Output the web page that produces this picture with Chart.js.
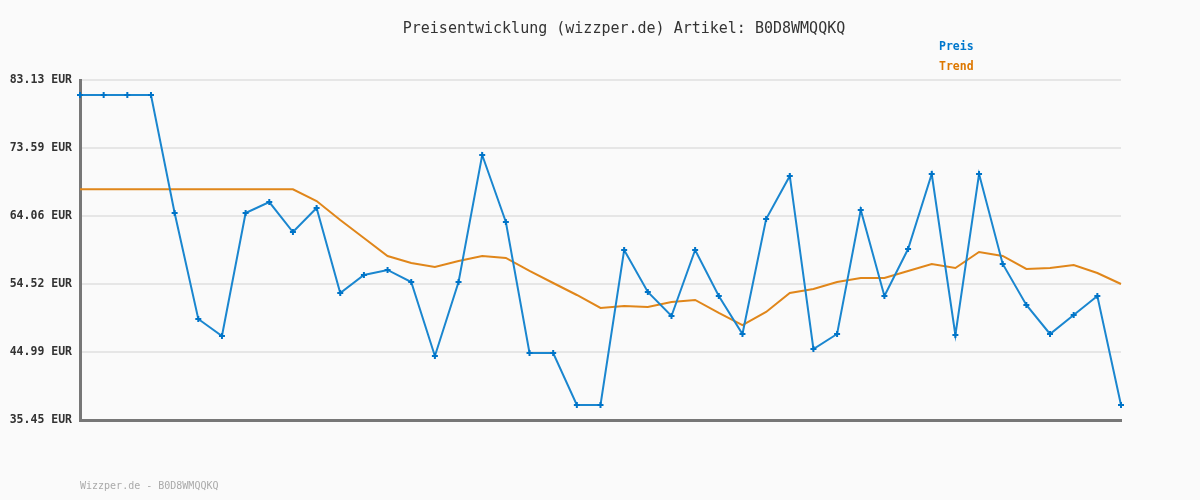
<!DOCTYPE html>
<html>
<head>
<meta charset="utf-8">
<script src="https://cdn.jsdelivr.net/npm/chart.js@4/dist/chart.umd.min.js"></script>
<style>
  html, body { margin: 0; padding: 0; background: #fafafa; }
  #wrap { position: relative; width: 1200px; height: 500px; }
  canvas { position: absolute; left: 0; top: 0; }
  .txt { position: absolute; font-family: "DejaVu Sans Mono", monospace; white-space: nowrap; }
  #title { left: 0; width: 1248px; top: 19px; text-align: center; font-size: 15px; color: #333; }
  #lgP { left: 939px; top: 39px; font-size: 11.5px; font-weight: bold; color: #0077cc; }
  #lgT { left: 939px; top: 59px; font-size: 11.5px; font-weight: bold; color: #dd7700; }
  #foot { left: 80px; top: 480px; font-size: 10px; color: #aaaaaa; }
</style>
</head>
<body>
<div id="wrap">
  <canvas id="c" width="1200" height="500"></canvas>
  <div class="txt" id="title">Preisentwicklung (wizzper.de) Artikel: B0D8WMQQKQ</div>
  <div class="txt" id="lgP">Preis</div>
  <div class="txt" id="lgT">Trend</div>
  <div class="txt" id="foot">Wizzper.de - B0D8WMQQKQ</div>
</div>
<script>
const categories = ["1","2","3","4","5","6","7","8","9","10","11","12","13","14","15","16","17","18","19","20","21","22","23","24","25","26","27","28","29","30","31","32","33","34","35","36","37","38","39","40","41","42","43","44","45"];

const preis = [81.03, 81.03, 81.03, 81.03, 64.48, 49.61, 47.23, 64.48, 66.02, 61.81,
               65.18, 53.26, 55.78, 56.49, 54.80, 44.43, 54.80, 72.61, 63.22, 44.85,
               44.85, 37.55, 37.55, 59.29, 53.40, 50.03, 59.29, 52.84, 47.51, 63.64,
               69.67, 45.41, 47.51, 64.90, 52.84, 59.43, 69.95, 47.37, 69.95, 57.33,
               51.58, 47.51, 50.18, 52.84, 37.55];

const trend = [67.80, 67.80, 67.80, 67.80, 67.80, 67.80, 67.80, 67.80, 67.80, 67.80,
               66.16, 63.50, 60.97, 58.45, 57.47, 56.91, 57.75, 58.45, 58.17, 56.35,
               54.66, 52.98, 51.16, 51.44, 51.30, 52.00, 52.28, 50.46, 48.77, 50.60,
               53.26, 53.82, 54.80, 55.36, 55.36, 56.35, 57.33, 56.77, 59.01, 58.45,
               56.63, 56.77, 57.19, 56.06, 54.52];

const yTicks = [35.45, 44.99, 54.52, 64.06, 73.59, 83.13];

new Chart(document.getElementById('c'), {
  type: 'line',
  data: {
    labels: categories,
    datasets: [
      {
        label: 'Trend',
        data: trend,
        borderColor: '#e0861a',
        borderWidth: 2,
        pointRadius: 0,
        tension: 0,
        order: 2
      },
      {
        label: 'Preis',
        data: preis,
        borderColor: '#1a86cf',
        borderWidth: 2,
        pointStyle: 'cross',
        pointRadius: 3,
        pointBorderWidth: 2,
        pointBorderColor: '#0074c8',
        pointBackgroundColor: '#0074c8',
        tension: 0,
        order: 1
      }
    ]
  },
  options: {
    responsive: false,
    animation: false,
    layout: { padding: { left: 0, top: 80, right: 79, bottom: 0 } },
    plugins: { legend: { display: false }, title: { display: false }, tooltip: { enabled: false } },
    scales: {
      x: {
        type: 'category',
        offset: false,
        grid: { display: false, drawTicks: false },
        border: { display: true, color: '#777777', width: 3 },
        ticks: { display: false },
        afterFit: (s) => { s.height = 80; }
      },
      y: {
        min: yTicks[0],
        max: yTicks[yTicks.length - 1],
        afterBuildTicks: (s) => { s.ticks = yTicks.map(v => ({ value: v })); },
        afterFit: (s) => { s.width = 80; },
        grid: { color: '#e6e6e6', lineWidth: 2, drawTicks: false },
        border: { display: true, color: '#777777', width: 3 },
        ticks: {
          padding: 8,
          color: '#333333',
          font: { family: 'DejaVu Sans Mono', size: 11.5, weight: 'bold' },
          callback: (v) => Number(v).toFixed(2) + ' EUR'
        }
      }
    }
  }
});
</script>
</body>
</html>
